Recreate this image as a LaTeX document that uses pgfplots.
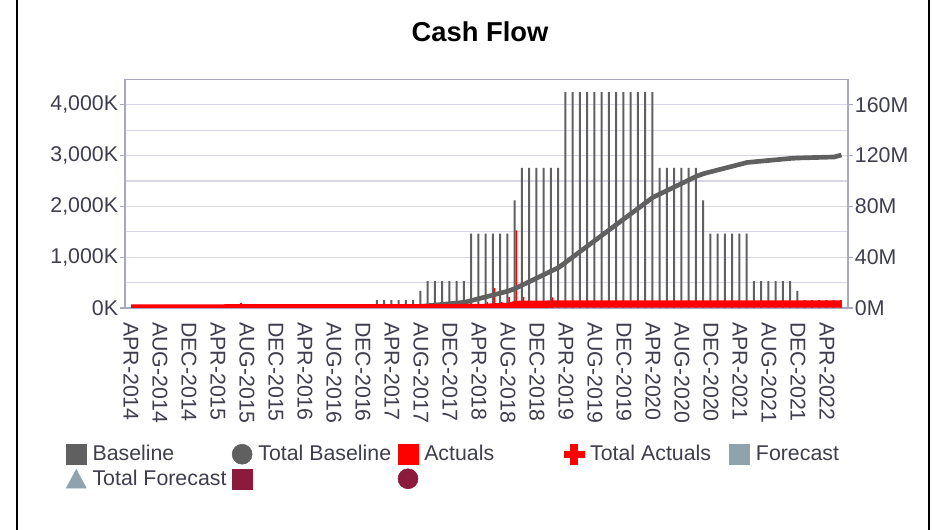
\documentclass[border=0pt]{standalone}
\usepackage{fontspec}
\setmainfont{Liberation Sans}
\usepackage{pgfplots}
\pgfplotsset{compat=1.18}
\definecolor{basegray}{HTML}{606060}
\definecolor{actred}{HTML}{FF0000}
\definecolor{fcblue}{HTML}{8FA3AD}
\definecolor{maroon}{HTML}{8B1A3C}
\definecolor{axcol}{HTML}{A8A8C4}
\definecolor{gridcol}{HTML}{D6D6E4}
\definecolor{txt}{HTML}{3E3E4E}
\begin{document}
\begin{tikzpicture}[x=1pt,y=1pt]
\begin{axis}[
  scale only axis, width=542.25pt, height=171.4pt,
  xmin=-0.83, xmax=98.9, ymin=0, ymax=4500,
  axis line style={axcol, line width=0.8pt},
  ytick={0,1000,2000,3000,4000},
  yticklabels={0K,{1,000K},{2,000K},{3,000K},{4,000K}},
  minor ytick={500,1500,2500,3500},
  ymajorgrids, yminorgrids,
  major grid style={gridcol, line width=0.9pt},
  minor grid style={gridcol, line width=0.9pt},
  xtick={0,4,...,96},
  xticklabels={APR-2014,AUG-2014,DEC-2014,APR-2015,AUG-2015,DEC-2015,APR-2016,AUG-2016,DEC-2016,APR-2017,AUG-2017,DEC-2017,APR-2018,AUG-2018,DEC-2018,APR-2019,AUG-2019,DEC-2019,APR-2020,AUG-2020,DEC-2020,APR-2021,AUG-2021,DEC-2021,APR-2022},
  xtick style={draw=none},
  ytick style={axcol, line width=0.8pt},
  ytick pos=left,
  tick align=outside, major tick length=3.5pt, minor tick length=0pt,
  tick label style={font=\fontsize{16}{19}\selectfont, text=txt},
  yticklabel style={inner xsep=1.5pt},
  xticklabel style={rotate=-90, anchor=west, inner xsep=0pt},
  xticklabel shift=7pt,
]
\addplot[ybar, bar width=1.5pt, bar shift=-0.4pt, fill=basegray, draw=none] coordinates {
(34,157)(35,157)(36,157)(37,157)(38,157)(39,157)(40,339)
(41,530)(42,530)(43,530)(44,530)(45,530)(46,530)
(47,1465)(48,1465)(49,1465)(50,1465)(51,1465)(52,1465)(53,2118)
(54,2759)(55,2759)(56,2759)(57,2759)(58,2759)(59,2759)
(60,4250)(61,4250)(62,4250)(63,4250)(64,4250)(65,4250)(66,4250)(67,4250)(68,4250)(69,4250)(70,4250)(71,4250)(72,4250)
(73,2759)(74,2759)(75,2759)(76,2759)(77,2759)(78,2759)(79,2118)
(80,1465)(81,1465)(82,1465)(83,1465)(84,1465)(85,1465)
(86,530)(87,530)(88,530)(89,530)(90,530)(91,530)(92,339)
(93,157)(94,157)(95,157)(96,157)(97,157)(98,157)};
\addplot[ybar, bar width=1.2pt, bar shift=0.9pt, fill=actred, draw=none] coordinates {
(13,70)(15,100)(37,30)(44,40)(46,40)(48,60)(49,120)(50,390)(51,120)(52,220)(53,1530)(54,220)(58,210)};
\end{axis}
\begin{axis}[
  scale only axis, width=542.25pt, height=171.4pt,
  xmin=-0.83, xmax=98.9, ymin=0, ymax=180,
  axis x line=none, axis y line*=right,
  axis line style={draw=none},
  ytick={0,40,80,120,160},
  yticklabels={0M,40M,80M,120M,160M},
  ytick style={axcol, line width=0.8pt},
  tick align=outside, major tick length=3.5pt,
  tick label style={font=\fontsize{16}{19}\selectfont, text=txt},
  yticklabel style={inner xsep=1.5pt},
  legend columns=5,
  legend cell align=left,
  legend style={at={(axis description cs:-0.0816,-0.595)}, anchor=north west, draw=none, fill=none,
    inner sep=0pt, outer sep=0pt, row sep=3pt, column sep=0pt,
    font=\fontsize{16}{19}\selectfont, text=txt,
    nodes={inner xsep=4.5pt, inner ysep=1pt, anchor=west}},
]
\addplot[basegray, line width=3.5pt, forget plot] coordinates {
(0,0)(33,0)(34,0.157)(35,0.314)(36,0.471)(37,0.628)(38,0.785)(39,0.942)(40,1.281)
(41,1.811)(42,2.341)(43,2.871)(44,3.401)(45,3.931)(46,4.461)
(47,5.926)(48,7.391)(49,8.856)(50,10.321)(51,11.786)(52,13.251)(53,15.369)
(54,18.128)(55,20.887)(56,23.646)(57,26.405)(58,29.164)(59,31.923)
(60,36.173)(61,40.423)(62,44.673)(63,48.923)(64,53.173)(65,57.423)(66,61.673)(67,65.923)(68,70.173)(69,74.423)(70,78.673)(71,82.923)(72,87.173)
(73,89.932)(74,92.691)(75,95.450)(76,98.209)(77,100.968)(78,103.727)(79,105.845)
(80,107.310)(81,108.775)(82,110.240)(83,111.705)(84,113.170)(85,114.635)
(86,115.165)(87,115.695)(88,116.225)(89,116.755)(90,117.285)(91,117.815)(92,118.154)
(93,118.311)(94,118.468)(95,118.625)(96,118.782)(97,118.939)(98,120.5)};
\addplot[actred, line width=5.5pt, forget plot] coordinates {
(0,0)(12,0)(13,0.07)(14,0.07)(15,0.17)(36,0.17)(37,0.2)(43,0.2)(44,0.24)(45,0.24)(46,0.28)(47,0.28)
(48,0.34)(49,0.46)(50,0.85)(51,0.97)(52,1.19)(53,2.72)(54,2.94)(57,2.94)(58,3.15)(98,3.15)};
\addlegendimage{legend image code/.code={\fill[basegray] (0pt,-7.5pt) rectangle (15pt,7.5pt);}}
\addlegendentry{\makebox[100pt][l]{Baseline}}
\addlegendimage{legend image code/.code={\fill[basegray] (7.5pt,0pt) circle (7.5pt);}}
\addlegendentry{\makebox[100pt][l]{Total Baseline}}
\addlegendimage{legend image code/.code={\fill[actred] (0pt,-7.5pt) rectangle (15pt,7.5pt);}}
\addlegendentry{\makebox[100pt][l]{Actuals}}
\addlegendimage{legend image code/.code={\fill[actred] (5pt,-7.5pt) rectangle (10pt,7.5pt); \fill[actred] (0pt,-2.5pt) rectangle (15pt,2.5pt);}}
\addlegendentry{\makebox[100pt][l]{Total Actuals}}
\addlegendimage{legend image code/.code={\fill[fcblue] (0pt,-7.5pt) rectangle (15pt,7.5pt);}}
\addlegendentry{\makebox[100pt][l]{Forecast}}
\addlegendimage{legend image code/.code={\fill[fcblue] (0pt,-7pt) -- (15pt,-7pt) -- (7.5pt,7pt) -- cycle;}}
\addlegendentry{\makebox[100pt][l]{Total Forecast}}
\addlegendimage{legend image code/.code={\fill[maroon] (0pt,-7.5pt) rectangle (15pt,7.5pt);}}
\addlegendentry{\makebox[100pt][l]{}}
\addlegendimage{legend image code/.code={\fill[maroon] (7.5pt,0pt) circle (7.5pt);}}
\addlegendentry{\makebox[100pt][l]{}}
\end{axis}
\pgfresetboundingbox
\useasboundingbox (-93.75,-166.5) rectangle (605.25,231);
\draw[line width=1.2pt] (-81,-166.5) -- (-81,231);
\draw[line width=1.2pt] (603,-166.5) -- (603,231);
\node[font=\bfseries\fontsize{20.5}{24}\selectfont] at (266.25,207) {Cash Flow};
\end{tikzpicture}
\end{document}
